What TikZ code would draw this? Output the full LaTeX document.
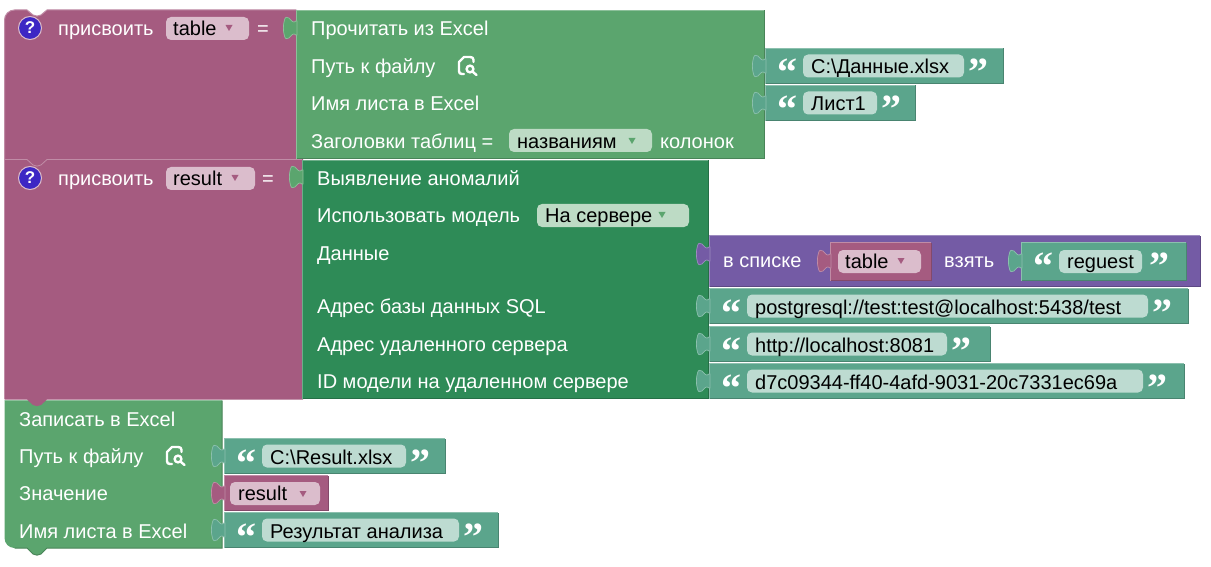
\documentclass[tikz,border=0pt]{standalone}
\usepackage{fontspec}
\setmainfont{Liberation Sans}
\newfontfamily\quotefont{Liberation Serif}[BoldFont=Liberation Serif Bold]
\definecolor{pur}{HTML}{A55B80}
\definecolor{purL}{HTML}{C08CA6}
\definecolor{purD}{HTML}{84496A}
\definecolor{purF}{HTML}{DBBDCC}
\definecolor{grn}{HTML}{5BA56E}
\definecolor{grnL}{HTML}{8CC09A}
\definecolor{grnD}{HTML}{498458}
\definecolor{grnF}{HTML}{BDDBC5}
\definecolor{dgr}{HTML}{2E8B57}
\definecolor{dgrL}{HTML}{6DAE89}
\definecolor{dgrD}{HTML}{256F46}
\definecolor{txb}{HTML}{5BA58C}
\definecolor{txbL}{HTML}{8CC0AE}
\definecolor{txbD}{HTML}{498470}
\definecolor{txbF}{HTML}{BDDBD1}
\definecolor{lst}{HTML}{745BA5}
\definecolor{lstL}{HTML}{9D8CC0}
\definecolor{lstD}{HTML}{5D4984}
\definecolor{hlp}{HTML}{3D26C4}
\tikzset{
  x=1pt,y=-1pt,
  lbl/.style={anchor=base west,inner sep=0pt,yshift=-.5pt,text=white,font=\fontsize{20}{22}\selectfont},
  fieldtext/.style={anchor=base west,inner sep=0pt,yshift=-.5pt,text=black,font=\fontsize{20}{22}\selectfont},
  qmark/.style={anchor=base west,inner sep=0pt,text=white,font=\fontsize{40}{40}\quotefont\bfseries},
  helpdot/.style={circle,draw=purF,line width=1pt,fill=hlp,minimum size=23pt,inner sep=0pt,text=white,font=\fontsize{17}{17}\selectfont\bfseries},
  iconline/.style={draw=white,line width=2.4pt,line cap=round,line join=round,fill=none}
}
% rectangular block with lit top and dark bottom edge
\newcommand\blk[5]{%
  \fill[#5] (#1,#2) rectangle (#3,#4);
  \draw[#5L,line width=1pt] (#1,#2+.5) -- (#3,#2+.5);
  \draw[#5D,line width=1pt] (#1,#4-.5) -- (#3,#4-.5) -- (#3,#2+.5);
  \draw[#5L,line width=1pt] (#1+.5,#2) -- (#1+.5,#4);
}
% puzzle tab on the left edge x, starting at height y
\newcommand\tabat[3]{%
  \path[fill=#3,draw=#3L,line width=.7pt]
    (#1+1,#2+2) -- (#1,#2+2) .. controls (#1-3,#2+5) and (#1-5,#2+1) .. (#1-7,#2-1)
    .. controls (#1-9,#2-2.5) and (#1-11,#2-2) .. (#1-11.5,#2+1)
    .. controls (#1-13,#2+5) and (#1-13,#2+13) .. (#1-11.5,#2+17)
    .. controls (#1-11,#2+20) and (#1-9,#2+20.5) .. (#1-7,#2+19)
    .. controls (#1-5,#2+17) and (#1-3,#2+13) .. (#1,#2+16) -- (#1+1,#2+16) -- cycle;
}
% field: name, x0,y0,x1,y1, fill colour
\newcommand\fld[6]{\fill[#6,rounded corners=5pt] (#2,#3) rectangle (#4,#5);}
\newcommand\tri[3]{\fill[#3] (#1-3.5,#2-3) -- (#1+3.5,#2-3) -- (#1,#2+3) -- cycle;}
% file icon at x,y (top-left)
\newcommand\fileicon[2]{%
  \begin{scope}[shift={(#1,#2)}]
    \draw[iconline] (6,18) -- (4,18) .. controls (2,18) and (1,17) .. (1,15) -- (1,6) -- (6,1) -- (12,1) .. controls (14.5,1) and (15.5,2) .. (15.5,4) -- (15.5,6);
    \draw[iconline] (12,13) circle (3.4pt);
    \draw[iconline] (15,16) -- (18.5,19);
  \end{scope}%
}
% text block: name, x0,y0,x1, field x1, text
\newcommand\strblk[6]{%
  \blk{#2}{#3}{#4}{#3+36}{txb}
  \tabat{#2}{#3+9}{txb}
  \node[qmark] (#1o) at (#2+12.5,#3+38) {“};
  \fld{#1}{#2+38}{#3+6.5}{#5}{#3+29.5}{txbF}
  \node[fieldtext] (#1) at (#2+46,#3+25.5) {#6};
  \node[qmark] (#1c) at (#5+4.5,#3+38) {”};
}
\begin{document}
\begin{tikzpicture}
\useasboundingbox (0,0) rectangle (1211,567);
\fill[white] (0,0) rectangle (1211,567);

% ---- third statement (green)
\fill[grn] (4.5,400) -- (222,400) -- (222,548) -- (47,548) -- (41,554) .. controls (38,555.5) and (36,555.5) .. (33,554) -- (27,548) -- (14.5,548) arc[start angle=90,end angle=180,radius=10] -- cycle;
\draw[grnL,line width=1pt] (5,400.5) -- (222,400.5);
\draw[grnD,line width=1pt] (222,400.5) -- (222,548) -- (47,548) -- (41,554) .. controls (38,555.5) and (36,555.5) .. (33,554) -- (27,548) -- (14.5,548);
\node[lbl] (w1) at (19,426) {Записать в Excel};
\node[lbl] (w2) at (19,463) {Путь к файлу};
\node[lbl] (w3) at (19,500) {Значение};
\node[lbl] (w4) at (19,538) {Имя листа в Excel};
\fileicon{166}{446}

% ---- second statement (purple + dark green)
\fill[pur] (4.5,159) -- (303,159) -- (303,399.5) -- (47,399.5) -- (41,405) .. controls (38,406.5) and (36,406.5) .. (33,405) -- (27,399.5) -- (4.5,399.5) -- cycle;
\blk{302}{160}{708}{399}{dgr}
\tabat{302}{168}{grn}
\node[helpdot] (h2) at (30,178) {?};
\node[lbl] (a2) at (58,185) {присвоить};
\fld{f2}{166}{167}{255}{190}{purF}
\node[fieldtext] (v2) at (173,185) {result};
\tri{235}{178}{pur}
\node[lbl] (e2) at (262,185) {=};
\node[lbl] (d1) at (317,185) {Выявление аномалий};
\node[lbl] (d2) at (317,222) {Использовать модель};
\fld{f3}{537}{204}{689}{227}{grnF}
\node[fieldtext] (v3) at (545,222) {На сервере};
\tri{662}{215}{grn}
\node[lbl] (d3) at (317,260) {Данные};
\node[lbl] (d4) at (317,313) {Адрес базы данных SQL};
\node[lbl] (d5) at (317,351) {Адрес удаленного сервера};
\node[lbl] (d6) at (317,388) {ID модели на удаленном сервере};

% ---- first statement (purple + green)
\fill[pur] (4.5,20) arc[start angle=180,end angle=270,radius=10] -- (27,10) -- (33,15) .. controls (36,16.5) and (38,16.5) .. (41,15) -- (47,10) -- (297,10) -- (297,159) -- (47,159) -- (41,164.5) .. controls (38,166) and (36,166) .. (33,164.5) -- (27,159) -- (4.5,159) -- cycle;
\draw[purL,line width=1pt] (4.5,159) -- (4.5,20) arc[start angle=180,end angle=270,radius=10] -- (27,10) -- (33,15) .. controls (36,16.5) and (38,16.5) .. (41,15) -- (47,10) -- (296,10);
\draw[purL,line width=1pt] (4.5,159) -- (4.5,399);
\draw[purL,line width=.8pt] (5,159.5) -- (27,159.5) -- (33,165) .. controls (36,166.5) and (38,166.5) .. (41,165) -- (47,159.5) -- (302,159.5);
\blk{296}{10}{764}{159}{grn}
\tabat{296}{19}{grn}
\node[helpdot] (h1) at (30,28) {?};
\node[lbl] (a1) at (58,35) {присвоить};
\fld{f1}{166}{17}{249}{40}{purF}
\node[fieldtext] (v1) at (173,35) {table};
\tri{229}{28}{pur}
\node[lbl] (e1) at (257,35) {=};
\node[lbl] (r1) at (311,35) {Прочитать из Excel};
\node[lbl] (r2) at (311,73) {Путь к файлу};
\node[lbl] (r3) at (311,110) {Имя листа в Excel};
\node[lbl] (r4) at (311,148) {Заголовки таблиц =};
\fileicon{458}{56}
\fld{f4}{509}{129}{652}{152}{grnF}
\node[fieldtext] (v4) at (517,148) {названиям};
\tri{632}{141}{grn}
\node[lbl] (r5) at (660,148) {колонок};

% ---- list block
\blk{709}{235}{1200}{287}{lst}
\tabat{709}{245}{lst}
\node[lbl] (l1) at (723,267) {в списке};
\blk{830}{242}{931}{281}{pur}
\tabat{830}{252}{pur}
\fld{f5}{838}{250}{921}{273}{purF}
\node[fieldtext] (v5) at (845,268) {table};
\tri{901}{261}{pur}
\node[lbl] (l2) at (944,267) {взять};
\blk{1021}{242}{1186}{281}{txb}
\tabat{1021}{252}{txb}
\node[qmark] (qo) at (1033.5,279) {“};
\fld{f6}{1059}{250}{1142}{273}{txbF}
\node[fieldtext] (v6) at (1067,268) {reguest};
\node[qmark] (qc) at (1149.5,279) {”};

% ---- string blocks
\strblk{s1}{765}{48}{1003}{964}{C:\textbackslash Данные.xlsx}
\strblk{s2}{765}{85}{915}{877}{Лист1}
\strblk{s3}{709}{288}{1188}{1148}{postgresql://test:test@localhost:5438/test}
\strblk{s4}{709}{326}{990}{947}{http://localhost:8081}
\strblk{s5}{709}{363}{1184}{1143}{d7c09344-ff40-4afd-9031-20c7331ec69a}
\strblk{s6}{224}{438}{445}{406}{C:\textbackslash Result.xlsx}
\strblk{s7}{224}{512}{498}{459}{Результат анализа}

% ---- variable result
\blk{224}{475}{328}{511}{pur}
\tabat{224}{484}{pur}
\fld{f7}{230}{482}{320}{505}{purF}
\node[fieldtext] (v7) at (238,500) {result};
\tri{303}{494}{pur}
\end{tikzpicture}
\end{document}
